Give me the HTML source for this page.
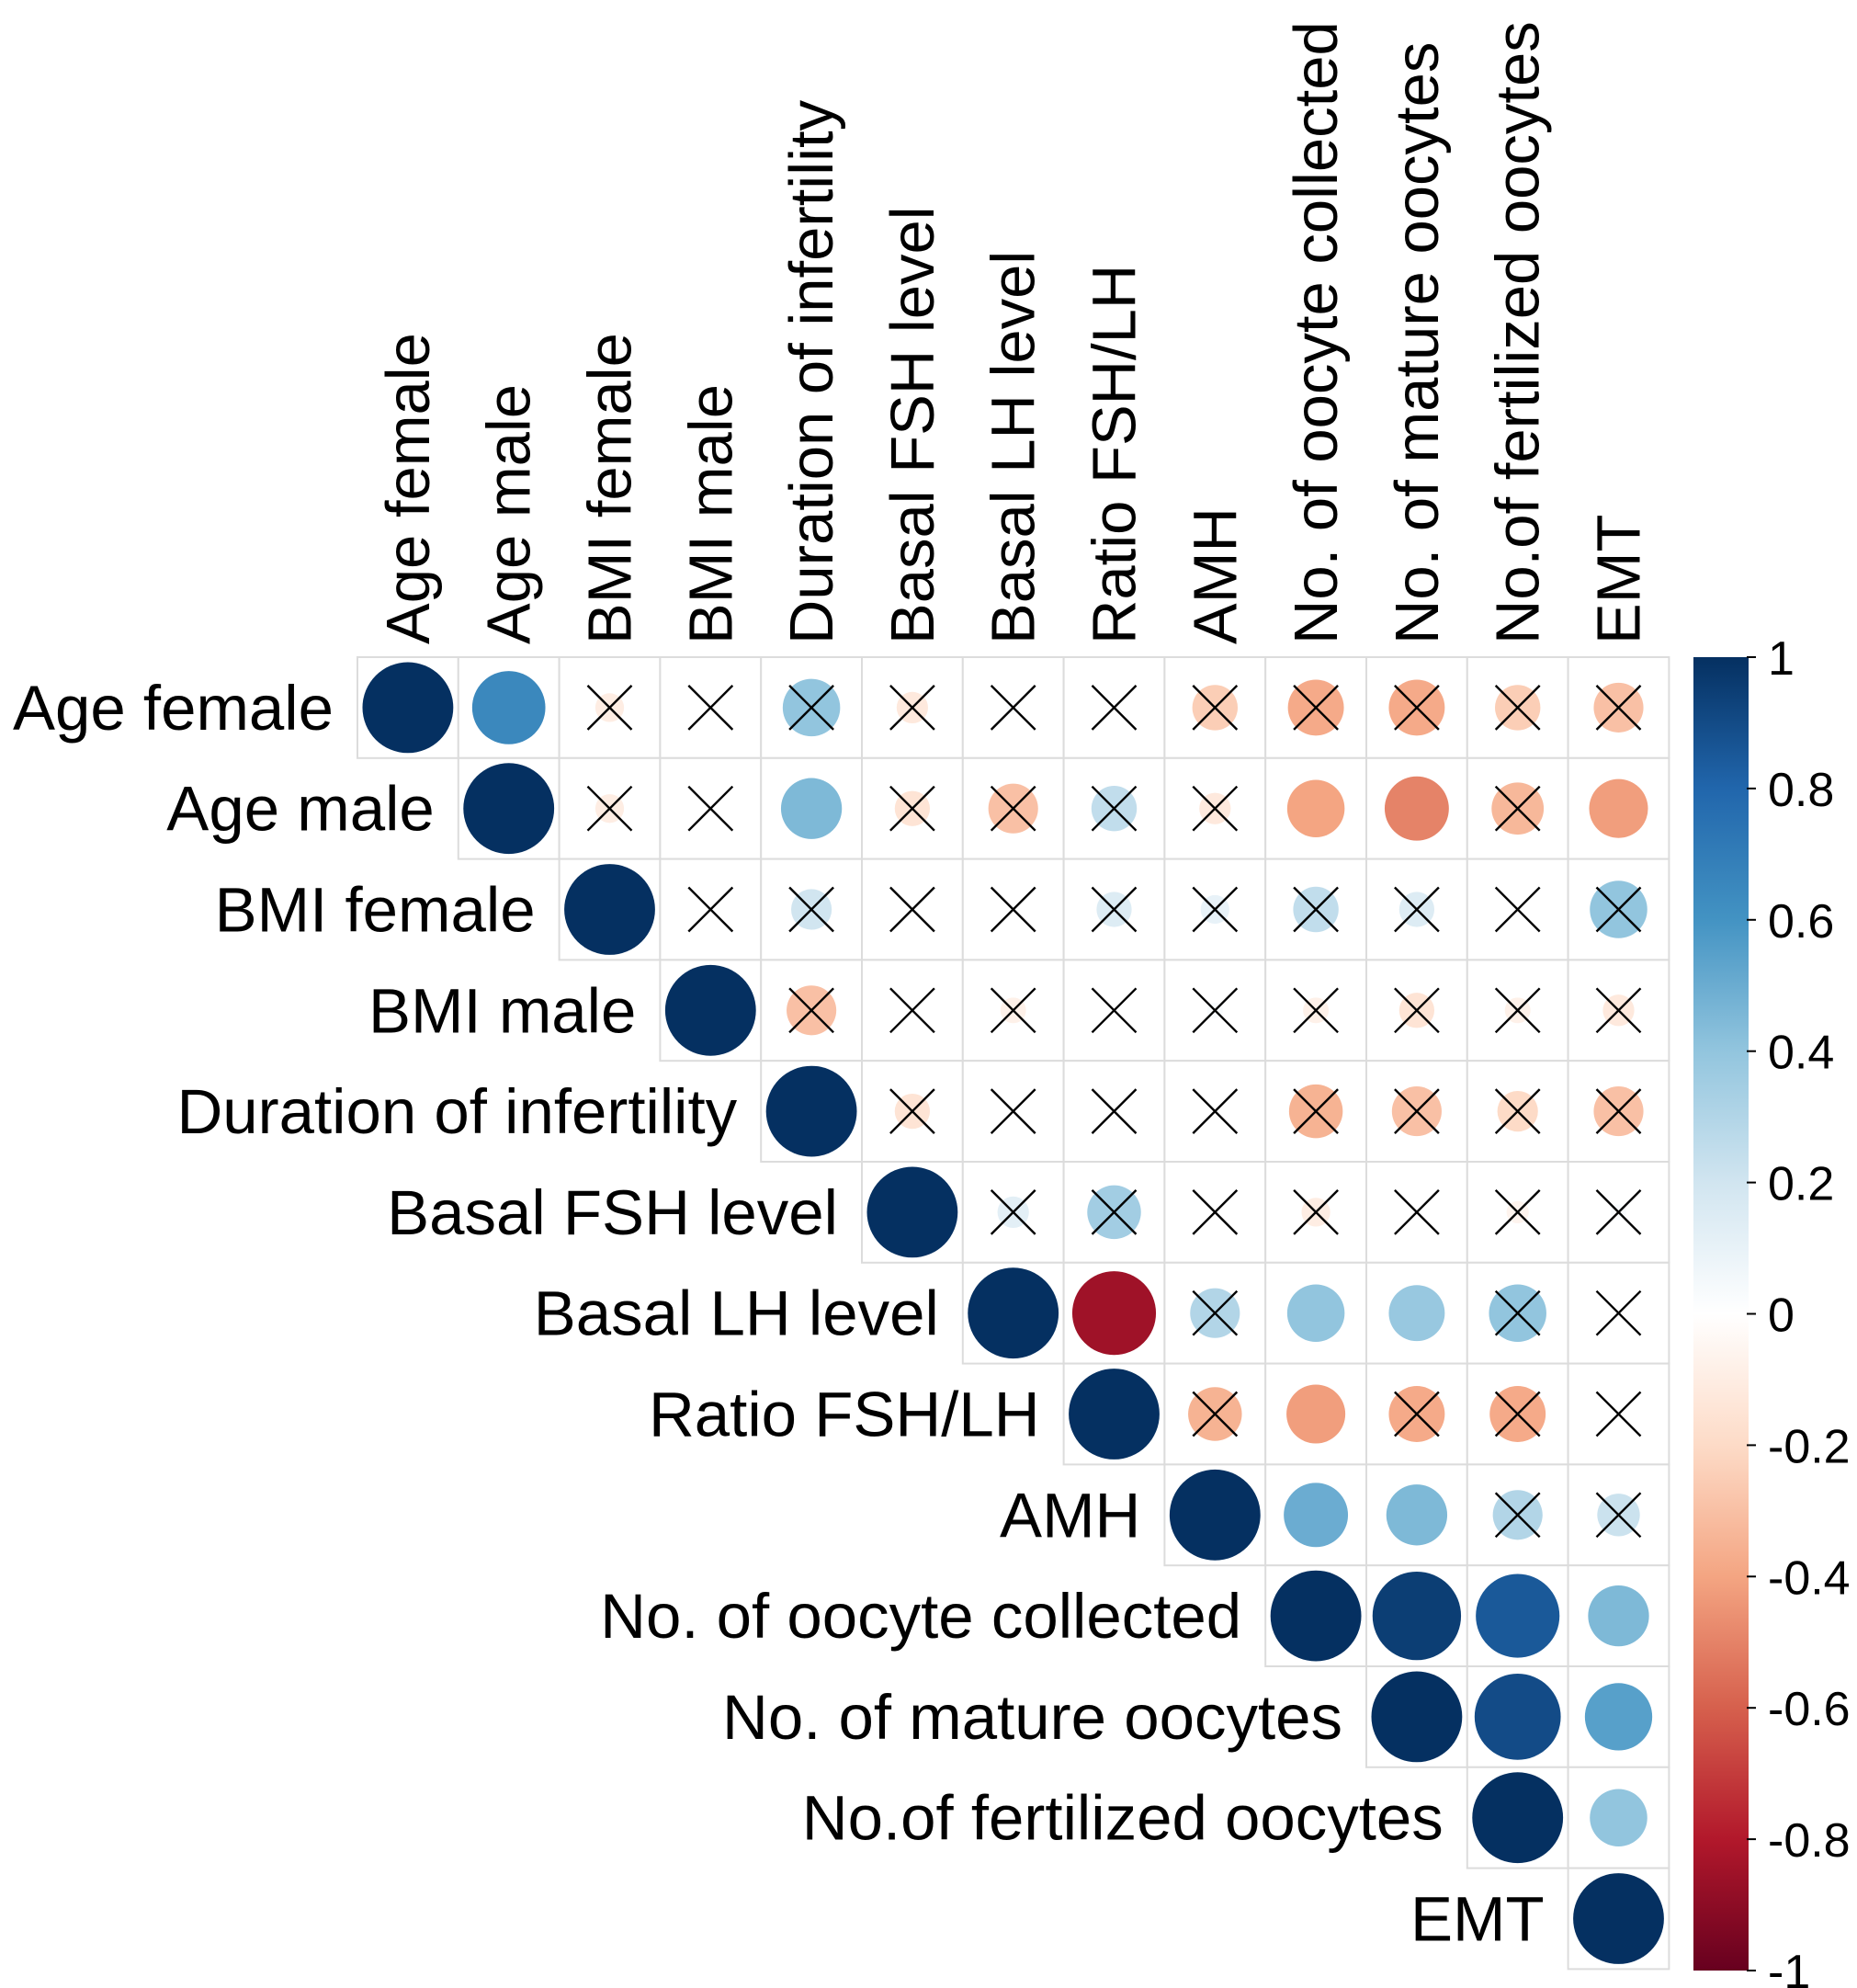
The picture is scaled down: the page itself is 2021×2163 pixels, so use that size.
<!DOCTYPE html>
<html><head><meta charset="utf-8"><style>
body{margin:0;background:#fff;}
svg{display:block;font-family:"Liberation Sans",sans-serif;}
</style></head><body>
<svg id="chart" width="2021" height="2163" viewBox="0 0 2021 2163" xmlns="http://www.w3.org/2000/svg"></svg>
<script>
const labels=["Age female","Age male","BMI female","BMI male","Duration of infertility","Basal FSH level","Basal LH level","Ratio FSH/LH","AMH","No. of oocyte collected","No. of mature oocytes","No.of fertilized oocytes","EMT"];
// upper-triangle rows (starting after diagonal)
const corrRows=[
[0.65,-0.1,0,0.4,-0.12,0.02,0,-0.25,-0.38,-0.38,-0.25,-0.3],
[-0.1,0,0.45,-0.15,-0.3,0.25,-0.12,-0.4,-0.5,-0.33,-0.42],
[0,0.2,0,0,0.15,0.1,0.25,0.15,0,0.4],
[-0.3,0,-0.08,0,0.03,-0.08,-0.15,-0.08,-0.12],
[-0.15,0,0,0,-0.35,-0.3,-0.2,-0.3],
[0.12,0.35,0,-0.1,0,-0.06,0.03],
[-0.85,0.3,0.4,0.38,0.4,0],
[-0.35,-0.42,-0.38,-0.38,0],
[0.5,0.45,0.3,0.22],
[0.95,0.85,0.45],
[0.9,0.55],
[0.4],
[]
];
// 1 = insignificant (crossed)
const crossRows=[
[0,1,1,1,1,1,1,1,1,1,1,1],
[1,1,0,1,1,1,1,0,0,1,0],
[1,1,1,1,1,1,1,1,1,1],
[1,1,1,1,1,1,1,1,1],
[1,1,1,1,1,1,1,1],
[1,1,1,1,1,1,1],
[0,1,0,0,1,1],
[1,0,1,1,1],
[0,0,1,1],
[0,0,0],
[0,0],
[0],
[]
];
const ticks=[1,0.8,0.6,0.4,0.2,0,-0.2,-0.4,-0.6,-0.8,-1];
const palette=["#67001F","#B2182B","#D6604D","#F4A582","#FDDBC7","#FFFFFF","#D1E5F0","#92C5DE","#4393C3","#2166AC","#053061"];

const svg=document.getElementById('chart');
const NS="http://www.w3.org/2000/svg";
const x0=389,y0=715,cs=109.8,R=cs/2*0.9;
function mk(t,a){const e=document.createElementNS(NS,t);for(const k in a)e.setAttribute(k,a[k]);svg.appendChild(e);return e;}
function hex(h){return [1,3,5].map(i=>parseInt(h.substr(i,2),16));}
function col(v){const t=(v+1)/2*(palette.length-1);const i=Math.min(Math.floor(t),palette.length-2);const f=t-i;const a=hex(palette[i]),b=hex(palette[i+1]);return `rgb(${a.map((c,k)=>Math.round(c+(b[k]-c)*f)).join(',')})`;}
const cx=j=>x0+(j+0.5)*cs, cy=i=>y0+(i+0.5)*cs;
const n=labels.length;
for(let i=0;i<n;i++)for(let j=i;j<n;j++){
 const r=mk('rect',{x:x0+j*cs,y:y0+i*cs,width:cs,height:cs,fill:'#fff',stroke:'#dcdcdc','stroke-width':2});
 
 
}
for(let i=0;i<n;i++){
 for(let j=i;j<n;j++){
  const v=j===i?1:corrRows[i][j-i-1];
  const c=mk('circle',{cx:cx(j),cy:cy(i),r:R*Math.sqrt(Math.abs(v)),fill:col(v)});
  
  
  if(j>i&&crossRows[i][j-i-1]){
   const d=24;
   const g=mk('path',{d:`M${cx(j)-d} ${cy(i)-d}L${cx(j)+d} ${cy(i)+d}M${cx(j)+d} ${cy(i)-d}L${cx(j)-d} ${cy(i)+d}`,stroke:'#000','stroke-width':2.4,fill:'none'});
   
   
  }
 }
 const t=mk('text',{x:x0+i*cs-26,y:cy(i)+24,'text-anchor':'end','font-size':69,fill:'#000'});
 t.textContent=labels[i];
 
 
 const tc=mk('text',{x:0,y:0,'font-size':67,fill:'#000',transform:`translate(${cx(i)+23},701) rotate(-90)`});
 tc.textContent=labels[i];
 
 
}
const bx=1843,bw=60,by0=715,by1=2144;
const defs=mk('defs',{});
const lg=document.createElementNS(NS,'linearGradient');lg.setAttribute('id','cb');lg.setAttribute('x1',0);lg.setAttribute('y1',0);lg.setAttribute('x2',0);lg.setAttribute('y2',1);defs.appendChild(lg);
palette.slice().reverse().forEach((p,k)=>{const s=document.createElementNS(NS,'stop');s.setAttribute('offset',k/(palette.length-1));s.setAttribute('stop-color',p);lg.appendChild(s);});
const cb=mk('rect',{x:bx,y:by0,width:bw,height:by1-by0,fill:'url(#cb)'});


const yScale=v=>by0+(1-v)/2*(by1-by0);
ticks.forEach(v=>{
 const y=yScale(v);
 const l=mk('line',{x1:bx+bw-2,x2:bx+bw+8,y1:y,y2:y,stroke:'#000','stroke-width':2});
 
 
 const t=mk('text',{x:1924,y:y+19,'font-size':52,fill:'#000'});
 t.textContent=String(v);
 
 
});
</script>
</body></html>
